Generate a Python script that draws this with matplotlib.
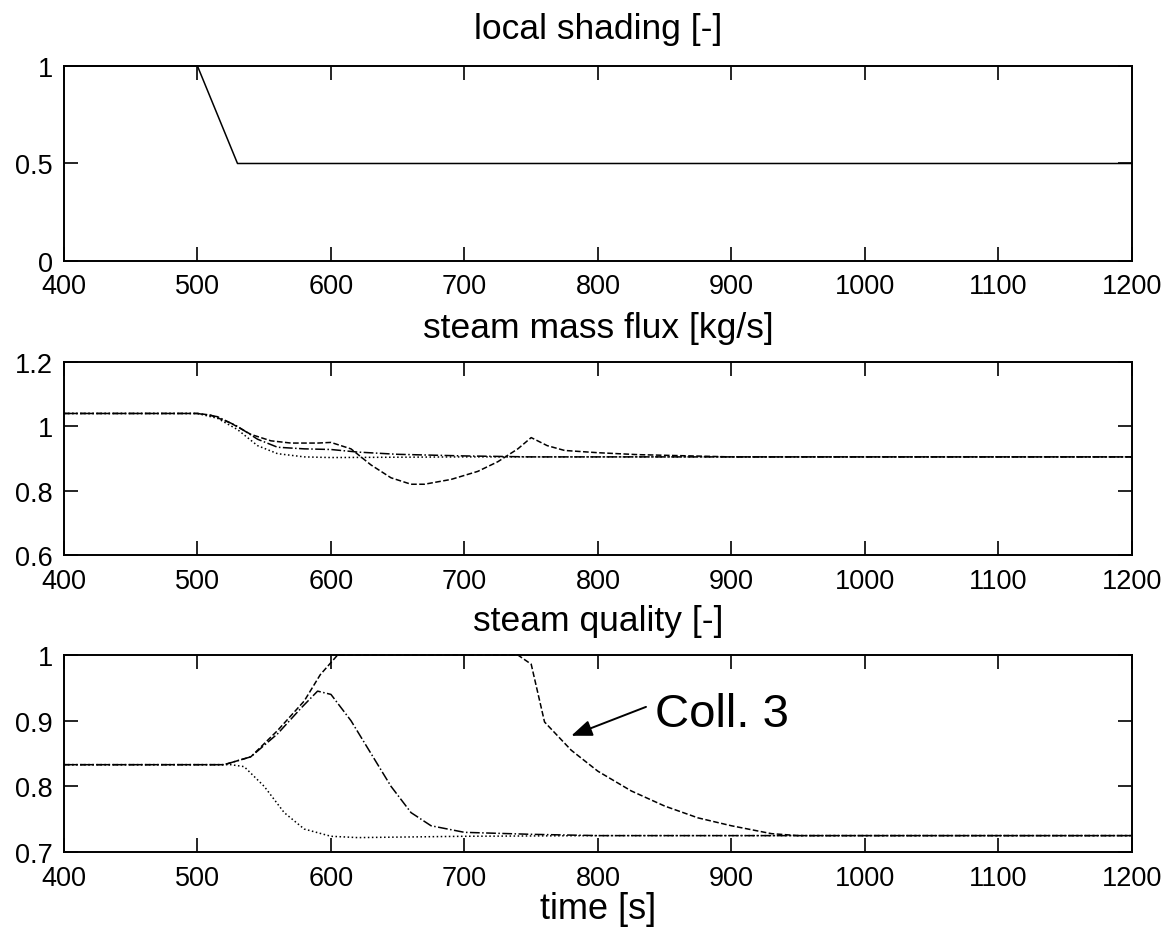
"""Three stacked panels: local shading, steam mass flux and steam quality vs time."""
import matplotlib
matplotlib.use("Agg")
import matplotlib.pyplot as plt
from matplotlib.ticker import FormatStrFormatter

plt.rcParams["font.family"] = ["Liberation Sans", "DejaVu Sans"]
plt.rcParams["font.size"] = 19.5

# local shading
shade_t = [400, 500, 530, 1200]
shade_v = [1.0, 1.0, 0.5, 0.5]

# steam mass flux [kg/s], three collectors
flux_t1 = [400, 500, 515, 530, 545, 560, 580, 600, 650, 700, 750, 1200]
flux_dot = [1.04, 1.04, 1.025, 0.99, 0.94, 0.915, 0.905, 0.903, 0.904, 0.905, 0.905, 0.905]
flux_t2 = [400, 500, 515, 530, 545, 560, 580, 600, 620, 650, 700, 750, 1200]
flux_dashdot = [1.04, 1.04, 1.03, 1.0, 0.96, 0.935, 0.93, 0.928, 0.92, 0.913, 0.908, 0.905, 0.905]
flux_t3 = [400, 500, 510, 525, 540, 555, 570, 590, 600, 615, 630, 645, 660, 670,
           690, 710, 725, 740, 750, 762, 775, 800, 830, 870, 900, 1200]
flux_dash = [1.04, 1.04, 1.035, 1.01, 0.975, 0.955, 0.948, 0.948, 0.95, 0.93, 0.88,
             0.84, 0.82, 0.82, 0.835, 0.86, 0.89, 0.93, 0.965, 0.94, 0.925, 0.918,
             0.912, 0.908, 0.905, 0.905]

# steam quality [-]
qual_t1 = [400, 525, 535, 550, 565, 580, 600, 620, 700, 800, 1200]
qual_dot = [0.833, 0.833, 0.83, 0.8, 0.76, 0.735, 0.724, 0.722, 0.724, 0.725, 0.725]
qual_t2 = [400, 520, 540, 560, 578, 590, 600, 615, 630, 645, 660, 675, 700, 750, 800, 1200]
qual_dashdot = [0.833, 0.833, 0.845, 0.88, 0.92, 0.945, 0.94, 0.9, 0.85, 0.8, 0.76,
                0.74, 0.73, 0.727, 0.725, 0.725]
qual_t3 = [400, 520, 540, 560, 580, 592, 605, 740, 750, 760, 780, 800, 825, 850,
           875, 900, 930, 950, 1200]
qual_dash = [0.833, 0.833, 0.845, 0.885, 0.93, 0.97, 1.0, 1.0, 0.986, 0.898, 0.855,
             0.823, 0.793, 0.77, 0.752, 0.74, 0.728, 0.725, 0.725]

XTICKS = [400, 500, 600, 700, 800, 900, 1000, 1100, 1200]

fig = plt.figure(figsize=(11.69, 9.37), dpi=100)
left, width = 0.0547, 0.9136
ax1 = fig.add_axes([left, 0.7204, width, 0.2081])
ax2 = fig.add_axes([left, 0.4066, width, 0.2060])
ax3 = fig.add_axes([left, 0.0896, width, 0.2103])

ax1.plot(shade_t, shade_v, color="black", lw=1.1, clip_on=False)
ax1.set_ylim(0, 1)
ax1.set_yticks([0, 0.5, 1])
ax1.set_title("local shading [-]", pad=20, fontsize=25.5)

ax2.plot(flux_t1, flux_dot, color="black", lw=1.1, ls=":")
ax2.plot(flux_t2, flux_dashdot, color="black", lw=1.1, ls="-.")
ax2.plot(flux_t3, flux_dash, color="black", lw=1.1, ls="--")
ax2.set_ylim(0.6, 1.2)
ax2.set_yticks([0.6, 0.8, 1.0, 1.2])
ax2.set_title("steam mass flux [kg/s]", pad=18, fontsize=25.5)

ax3.plot(qual_t1, qual_dot, color="black", lw=1.1, ls=":")
ax3.plot(qual_t2, qual_dashdot, color="black", lw=1.1, ls="-.")
ax3.plot(qual_t3, qual_dash, color="black", lw=1.1, ls="--", clip_on=False)
ax3.set_ylim(0.7, 1.0)
ax3.set_yticks([0.7, 0.8, 0.9, 1.0])
ax3.set_title("steam quality [-]", pad=18, fontsize=25.5)
ax3.set_xlabel("time [s]", labelpad=0, fontsize=26)

# label + arrow pointing at collector 3
ax3.text(843, 0.91, "Coll. 3", fontsize=34, va="center", ha="left")
ax3.annotate("", xy=(780, 0.877), xytext=(836, 0.921),
             arrowprops=dict(arrowstyle="-|>,head_length=0.9,head_width=0.35",
                             color="black", lw=1.4, mutation_scale=14,
                             shrinkA=0, shrinkB=0))

for ax in (ax1, ax2, ax3):
    ax.set_xlim(400, 1200)
    ax.set_xticks(XTICKS)
    ax.yaxis.set_major_formatter(FormatStrFormatter("%g"))
    ax.tick_params(direction="in", length=10, width=1.2, top=True, right=True,
                   labelsize=19.5)
    ax.tick_params(axis="x", pad=9)
    ax.tick_params(axis="y", pad=8)
    for sp in ax.spines.values():
        sp.set_linewidth(1.4)

fig.savefig("out.png", dpi=100)
